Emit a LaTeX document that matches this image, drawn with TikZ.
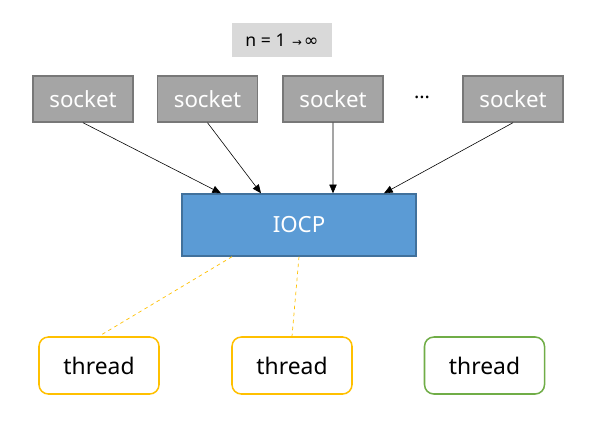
\documentclass[tikz,border=0pt]{standalone}
\usepackage{fontspec}
\setmainfont{Noto Sans}
\newfontfamily\symfont{DejaVu Sans}
\usetikzlibrary{arrows.meta, positioning}

\definecolor{sockfill}{HTML}{A5A5A5}
\definecolor{sockline}{HTML}{787878}
\definecolor{iocpfill}{HTML}{5B9BD5}
\definecolor{iocpline}{HTML}{41719C}
\definecolor{thryellow}{HTML}{FFC000}
\definecolor{thrgreen}{HTML}{70AD47}
\definecolor{labelgray}{HTML}{D9D9D9}

\begin{document}
\begin{tikzpicture}[
  x=0.03cm,y=-0.03cm,
  sock/.style={draw=sockline, line width=1.2pt, fill=sockfill, text=white, minimum width=3cm, minimum height=1.38cm, inner sep=0pt, font=\fontsize{19}{21}\selectfont},
  iocp/.style={draw=iocpline, line width=1.2pt, fill=iocpfill, text=white, minimum width=7.02cm, minimum height=1.86cm, inner sep=0pt, font=\fontsize{19}{21}\selectfont},
  thr/.style={draw, line width=1.3pt, rounded corners=8pt, fill=white, minimum width=3.6cm, minimum height=1.71cm, inner sep=0pt, font=\fontsize{19.5}{21}\selectfont},
  feed/.style={-{Triangle[length=2.6mm, width=2.2mm]}, line width=0.5pt},
  work/.style={dashed, thryellow, line width=0.6pt}
]
\useasboundingbox (0,0) rectangle (599,428);

% top label
\node[fill=labelgray, minimum width=3cm, minimum height=1.02cm, inner sep=0pt, font=\fontsize{15}{17}\selectfont] (count) at (282,40) {n = 1 {\symfont\fontsize{10}{11}\selectfont$\,$→$\,$}{\symfont ∞}};

% sockets
\node[sock] (s1) at (83,99) {socket};
\node[sock] (s2) at (207.5,99) {socket};
\node[sock] (s3) at (333,99) {socket};
\node[font=\fontsize{17}{19}\selectfont] (dots) at (422,97) {...};
\node[sock] (s4) at (513,99) {socket};

% completion port
\node[iocp] (port) at (299,225) {IOCP};
\draw[feed] (s1.south) -- ([xshift=-2.34cm]port.north);
\draw[feed] (s2.south) -- ([xshift=-1.14cm]port.north);
\draw[feed] (s3.south) -- ([xshift=1.02cm]port.north);
\draw[feed] (s4.south) -- ([xshift=2.55cm]port.north);

% worker threads
\node[thr, draw=thryellow] (t1) at (99,365.5) {thread};
\node[thr, draw=thryellow] (t2) at (292,365.5) {thread};
\node[thr, draw=thrgreen] (t3) at (484.5,365.5) {thread};
\draw[work] ([xshift=-2.01cm]port.south) -- (t1.north);
\draw[work] (port.south) -- (t2.north);

\end{tikzpicture}
\end{document}
